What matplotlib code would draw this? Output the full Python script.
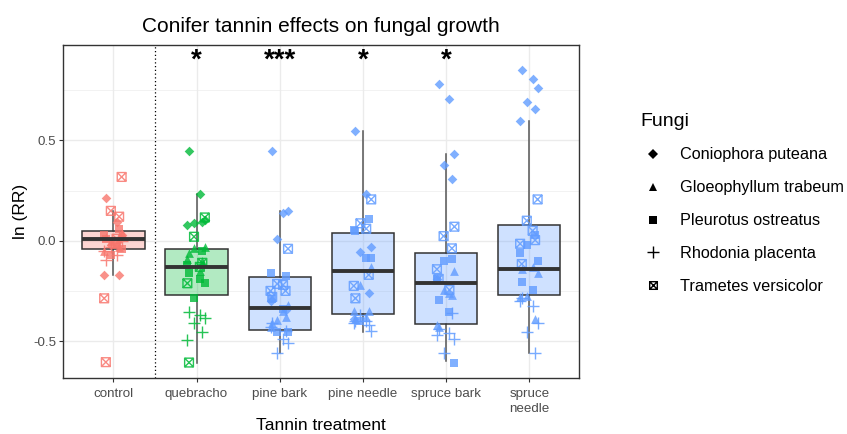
import numpy as np
import matplotlib
matplotlib.use("Agg")
import matplotlib.pyplot as plt
from matplotlib.path import Path
from matplotlib.lines import Line2D

plt.rcParams['font.family'] = ['Liberation Sans', 'DejaVu Sans']

# ---------------- data ----------------
treatments = ["control", "quebracho", "pine bark", "pine needle", "spruce bark", "spruce\nneedle"]
fungi = ["Coniophora puteana", "Gloeophyllum trabeum", "Pleurotus ostreatus",
         "Rhodonia placenta", "Trametes versicolor"]

# ln(RR) per treatment, per fungus (order as in `fungi`)
control_vals = [
    [0.214, 0.095, 0.03, -0.02, -0.171, -0.171],
    [0.04, 0.0, -0.03, -0.05, 0.02, -0.01],
    [0.06, 0.03, 0.01, -0.02, -0.04, -0.07],
    [-0.096, -0.07, 0.0, -0.03, 0.02, -0.05],
    [0.318, 0.149, 0.12, -0.287, -0.605, 0.01],
]
quebracho_vals = [
    [0.448, 0.232, 0.105, 0.09, 0.095, 0.08],
    [-0.033, -0.035, -0.10, -0.09, -0.06, -0.15],
    [-0.05, -0.12, -0.16, -0.19, -0.21, -0.287],
    [-0.353, -0.37, -0.386, -0.408, -0.453, -0.494],
    [0.116, 0.02, -0.11, -0.212, -0.607, -0.13],
]
pine_bark_vals = [
    [0.448, 0.136, 0.149, 0.008, -0.345, -0.30],
    [-0.32, -0.395, -0.38, -0.43, -0.41, -0.35],
    [-0.176, -0.16, -0.292, -0.34, -0.453, -0.453],
    [-0.41, -0.49, -0.51, -0.56, -0.45, -0.43],
    [-0.04, -0.215, -0.25, -0.25, -0.28, -0.22],
]
pine_needle_vals = [
    [0.547, 0.232, -0.03, -0.055, -0.262, -0.39],
    [-0.132, -0.22, -0.35, -0.35, -0.39, -0.38],
    [0.108, 0.053, 0.05, -0.088, -0.085, -0.40],
    [-0.40, -0.40, -0.448, -0.37, -0.42, -0.41],
    [0.206, 0.087, -0.17, -0.225, -0.287, 0.06],
]
spruce_bark_vals = [
    [0.78, 0.705, 0.43, 0.375, 0.309, -0.19],
    [-0.15, -0.245, -0.27, -0.42, -0.43, -0.26],
    [-0.093, -0.19, -0.295, -0.356, -0.607, -0.10],
    [-0.44, -0.46, -0.49, -0.56, -0.36, -0.47],
    [0.07, 0.023, -0.038, -0.142, -0.19, -0.245],
]
spruce_needle_vals = [
    [0.849, 0.804, 0.763, 0.692, 0.659, 0.597],
    [-0.16, -0.275, -0.391, -0.28, -0.14, -0.13],
    [0.03, -0.06, -0.204, -0.245, -0.10, -0.02],
    [-0.287, -0.325, -0.411, -0.453, -0.56, -0.30],
    [0.206, 0.10, 0.003, -0.015, -0.116, 0.05],
]
all_vals = [control_vals, quebracho_vals, pine_bark_vals,
            pine_needle_vals, spruce_bark_vals, spruce_needle_vals]

# box statistics
box_q1 = [-0.043, -0.270, -0.446, -0.365, -0.414, -0.270]
box_med = [0.007, -0.131, -0.333, -0.152, -0.209, -0.141]
box_q3 = [0.050, -0.041, -0.182, 0.037, -0.060, 0.078]
whisk_lo = [-0.171, -0.610, -0.560, -0.453, -0.600, -0.560]
whisk_hi = [0.149, 0.232, 0.148, 0.547, 0.430, 0.597]

signif = ["", "*", "***", "*", "*", ""]
signif_y = 0.9

# ---------------- style ----------------
group_colors = ["#F8766D", "#00BA38", "#619CFF", "#619CFF", "#619CFF", "#619CFF"]

sq = [(-1, -1), (1, -1), (1, 1), (-1, 1), (-1, -1)]
tv_path = Path(sq + [(-1, -1), (1, 1), (-1, 1), (1, -1)],
               [Path.MOVETO, Path.LINETO, Path.LINETO, Path.LINETO, Path.CLOSEPOLY,
                Path.MOVETO, Path.LINETO, Path.MOVETO, Path.LINETO])
markers = ["D", "^", "s", "+", tv_path]
msizes = [24, 40, 32, 80, 40]
kind = ["fill", "fill", "fill", "line", "open"]

jit = [-0.09, 0.04, 0.10, -0.03, 0.07, -0.11]

fig = plt.figure(figsize=(8.47, 4.34), dpi=100)
ax = fig.add_axes([63.4 / 847, 1 - 378.3 / 434, (579.2 - 63.4) / 847, (378.3 - 45) / 434])

xpos = np.arange(1, len(treatments) + 1)

# grid
for y in [-0.5, 0.0, 0.5]:
    ax.axhline(y, color="#EBEBEB", lw=1.0, zorder=0)
for y in [-0.25, 0.25, 0.75]:
    ax.axhline(y, color="#F2F2F2", lw=0.7, zorder=0)
for x in xpos:
    ax.axvline(x, color="#EBEBEB", lw=1.0, zorder=0)

# boxplots
stats = []
for i in range(len(treatments)):
    stats.append(dict(med=box_med[i], q1=box_q1[i], q3=box_q3[i],
                      whislo=whisk_lo[i], whishi=whisk_hi[i], fliers=[]))
bp = ax.bxp(stats, positions=xpos, widths=0.75, showfliers=False, showcaps=False,
            patch_artist=True, manage_ticks=False,
            boxprops=dict(edgecolor="#333333", linewidth=1.1),
            whiskerprops=dict(color="#555555", linewidth=1.1),
            medianprops=dict(color="#333333", linewidth=2.8))
for patch, c in zip(bp["boxes"], group_colors):
    patch.set_facecolor(matplotlib.colors.to_rgba(c, 0.3))
    patch.set_zorder(2)
for w in bp["whiskers"]:
    w.set_zorder(1.5)
for m in bp["medians"]:
    m.set_zorder(4)

# points
for i, tv in enumerate(all_vals):
    for f, vals in enumerate(tv):
        n = len(vals)
        offs = [jit[(k + 2 * f) % len(jit)] for k in range(n)]
        xs = xpos[i] + np.array(offs)
        if kind[f] == "fill":
            ax.scatter(xs, vals, marker=markers[f], s=msizes[f], color=group_colors[i],
                       alpha=0.8, linewidths=0, zorder=3)
        elif kind[f] == "line":
            ax.scatter(xs, vals, marker=markers[f], s=msizes[f], c=group_colors[i],
                       alpha=0.85, linewidths=1.0, zorder=3)
        else:
            ax.scatter(xs, vals, marker=markers[f], s=msizes[f], facecolors="none",
                       edgecolors=group_colors[i],
                       alpha=0.85, linewidths=1.0, zorder=3)

# separator and significance
ax.axvline(1.5, color="black", lw=0.9, ls=(0, (1, 2)), zorder=2)
for x, s in zip(xpos, signif):
    if s:
        ax.text(x, signif_y, s, ha="center", va="center", fontsize=20,
                fontweight="bold", color="black", zorder=5)

ax.set_xlim(0.4, 6.6)
ax.set_ylim(-0.6855, 0.9755)
ax.set_xticks(xpos)
ax.set_xticklabels(treatments, fontsize=9.6, color="#4D4D4D", linespacing=1.3)
ax.set_yticks([-0.5, 0.0, 0.5])
ax.set_yticklabels(["-0.5", "0.0", "0.5"], fontsize=9.6, color="#4D4D4D")
ax.tick_params(axis="both", length=3, width=0.8, color="#333333")
ax.tick_params(axis="x", pad=4)
ax.tick_params(axis="y", pad=2)
for sp in ax.spines.values():
    sp.set_color("#333333")
    sp.set_linewidth(1.0)

ax.set_xlabel("Tannin treatment", fontsize=12.5, labelpad=2)
ax.set_ylabel("ln (RR)", fontsize=12.5, labelpad=4)
ax.set_title("Conifer tannin effects on fungal growth", fontsize=15, pad=9)

# legend
handles = []
lsz = [4.6, 6, 5.5, 9, 5.5]
for f in range(len(fungi)):
    if kind[f] == "fill":
        h = Line2D([], [], linestyle="none", marker=markers[f], color="black",
                   markersize=lsz[f], markeredgewidth=0)
    elif kind[f] == "line":
        h = Line2D([], [], linestyle="none", marker=markers[f], color="black",
                   markersize=lsz[f], markeredgewidth=1.0)
    else:
        h = Line2D([], [], linestyle="none", marker=markers[f], color="black",
                   markerfacecolor="none", markersize=lsz[f], markeredgewidth=1.0)
    handles.append(h)
leg = fig.legend(handles, fungi, loc="upper left", bbox_to_anchor=(626 / 847, 1 - 98 / 434),
                 frameon=False, title="Fungi", fontsize=11.7, title_fontsize=14,
                 labelspacing=1.1, handletextpad=0.9, handlelength=1.5, alignment="left")

fig.savefig("out.png", dpi=100)
